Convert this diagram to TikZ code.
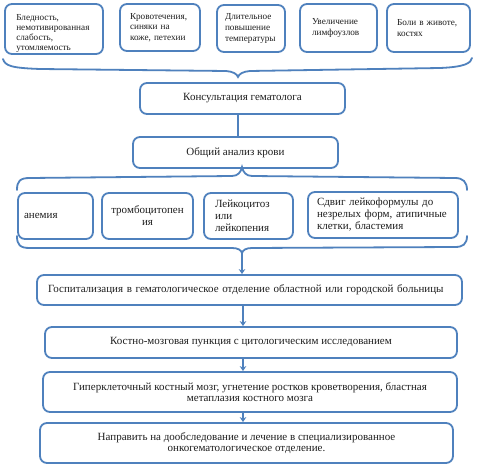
\documentclass[tikz,border=0pt]{standalone}
\usepackage{fontspec}
\setmainfont{Liberation Serif}
\usetikzlibrary{arrows.meta,calc}
\definecolor{boxblue}{RGB}{79,129,189}
\definecolor{txt}{RGB}{30,30,30}
\begin{document}
\begin{tikzpicture}[x=1pt,y=-1pt,
  bx/.style={draw=boxblue, line width=1.8pt, rounded corners=7pt, inner ysep=0pt, text=txt, font=\fontsize{11}{12}\selectfont},
  sm/.style={bx, font=\fontsize{9.2}{10.8}\selectfont, align=left},
  smt/.style={text=txt, font=\fontsize{9.2}{10.2}\selectfont, align=left, inner sep=0pt},
  br/.style={draw=boxblue, line width=1.8pt, line cap=round},
  arr/.style={draw=boxblue, line width=1.8pt, -{Stealth[length=5pt,width=6.5pt]}},
  con/.style={draw=boxblue, line width=2.4pt}]
\useasboundingbox[fill=white] (0,0) rectangle (480,468);

% top symptom boxes
\node[sm, minimum width=98, minimum height=50] (s1) at (54,29) {};
\node[smt, anchor=west] (s1t) at ($(s1.west)+(12,4.5)$) {Бледность,\\немотивированная\\слабость,\\утомляемость};
\node[sm, minimum width=80, minimum height=47, text width=60, inner xsep=8pt] (s2) at (160,27.5) {Кровотечения,\\синяки на\\коже, петехии};
\node[sm, minimum width=68, minimum height=47, text width=52, inner xsep=6pt] (s3) at (251,28.5) {Длительное\\повышение\\температуры};
\node[sm, minimum width=77, minimum height=48, text width=53, inner xsep=10pt] (s4) at (338.5,28) {Увеличение\\лимфоузлов};
\node[sm, minimum width=83, minimum height=48, text width=63, inner xsep=9pt] (s5) at (428.5,28) {Боли в животе,\\костях};

% brace 1
\coordinate (b1) at (238,77);
\draw[br] (3,59) .. controls (5,66) and (12,68) .. (40,69) -- (226,71)
  .. controls (233,71.5) and (237,74) .. (b1)
  .. controls (239,74) and (243,71.5) .. (250,71) -- (440,68)
  .. controls (465,67) and (471,63) .. (472,58);

\node[bx, minimum width=205, minimum height=31] (kons) at (242.5,98.5) {Консультация гематолога};
\node[bx, minimum width=205, minimum height=31] (oak) at (235.5,152.5) {Общий анализ крови};
\coordinate (lx) at (238,0);
\draw[con] (kons.south -| lx) -- (oak.north -| lx);

% brace 2 (upper)
\coordinate (b2) at (242,167);
\draw[br] (17,190) .. controls (17,181) and (20,178) .. (30,178) -- (232,176)
  .. controls (238,176) and (241,172) .. (b2)
  .. controls (243,172) and (246,176) .. (252,176) -- (455,178)
  .. controls (463,178) and (467,182) .. (467,190);

% middle boxes
\node[bx, minimum width=75, minimum height=46, text width=63, inner xsep=6pt, align=left] (m1) at (55.5,216) {анемия};
\node[bx, minimum width=91, minimum height=46, text width=81, inner xsep=5pt, align=center] (m2) at (147.5,216) {тромбоцитопен\\ия};
\node[bx, minimum width=89, minimum height=46, text width=67, inner xsep=8pt, align=left] (m3) at (248.5,216) {Лейкоцитоз\\или\\лейкопения};
\node[bx, minimum width=150, minimum height=46, text width=132, inner xsep=8pt, align=left] (m4) at (383,215) {Сдвиг лейкоформулы до\\незрелых форм, атипичные\\клетки, бластемия};

% brace 2 (lower)
\coordinate (b3) at (242,253);
\draw[br] (17,236) .. controls (17,245) and (20,248) .. (30,248) -- (232,248)
  .. controls (238,248) and (241,250) .. (b3)
  .. controls (243,250) and (246,248) .. (252,248) -- (455,247)
  .. controls (463,247) and (467,244) .. (467,236);

% lower chain
\node[bx, minimum width=425, minimum height=30, text width=403, inner xsep=11pt, align=left] (gosp) at (249.5,290) {\mbox{Госпитализация в гематологическое отделение областной или городской больницы}};
\node[bx, minimum width=412, minimum height=31] (punk) at (251,342.5) {Костно-мозговая пункция с цитологическим исследованием};
\node[bx, minimum width=414, minimum height=40, align=center, font=\fontsize{11}{11}\selectfont] (giper) at (250,392) {Гиперклеточный костный мозг, угнетение ростков кроветворения, бластная\\метаплазия костного мозга};
\node[bx, minimum width=413, minimum height=40, align=center, font=\fontsize{11}{11}\selectfont] (napr) at (246.5,443) {Направить на дообследование и лечение в специализированное\\онкогематологическое отделение.};

\coordinate (ax) at (243,0);
\draw[arr] (b3) -- (gosp.north -| b3);
\draw[arr] (gosp.south -| ax) -- (punk.north -| ax);
\draw[arr] (punk.south -| ax) -- (giper.north -| ax);
\draw[arr] (giper.south -| ax) -- (napr.north -| ax);
\end{tikzpicture}
\end{document}
